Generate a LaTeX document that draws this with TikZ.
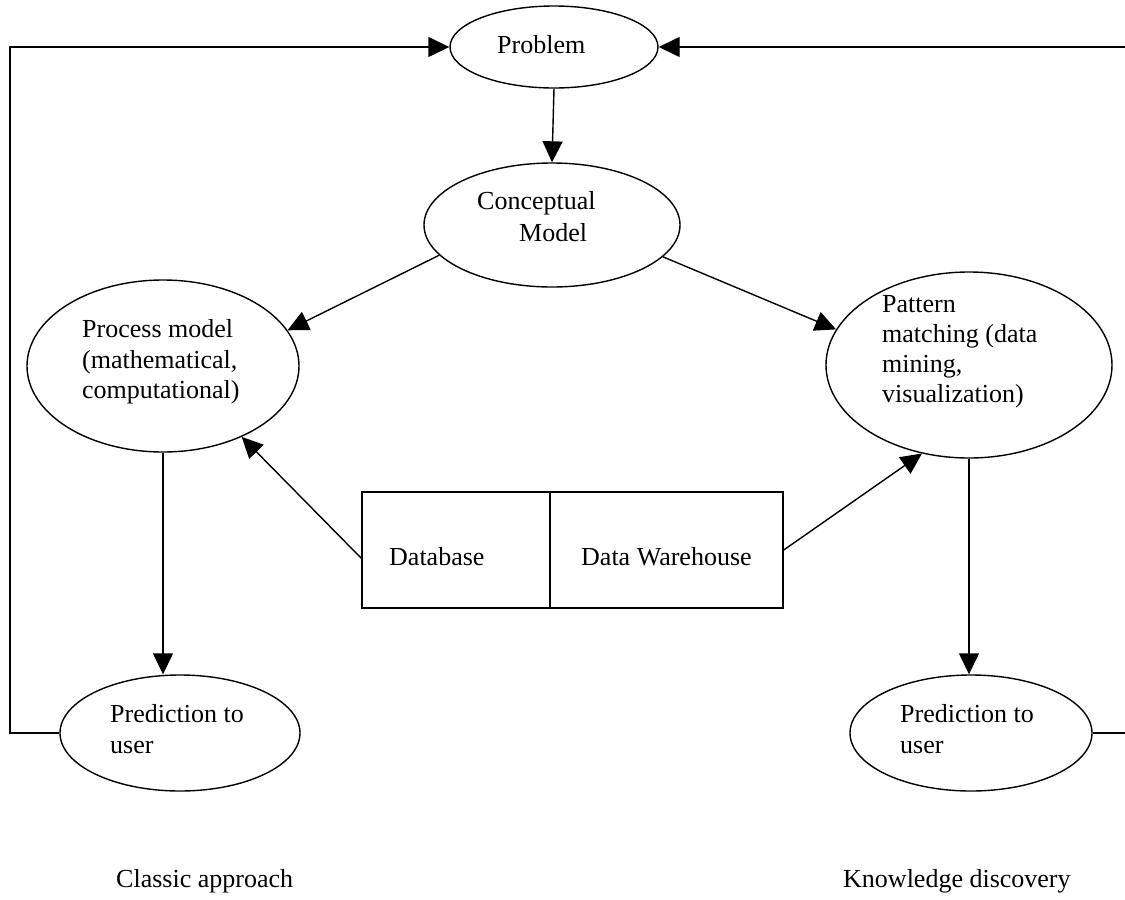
\documentclass[tikz,border=0pt]{standalone}
\usepackage{fontspec}
\setmainfont{Liberation Serif}
\usetikzlibrary{arrows.meta,shapes.geometric}
\begin{document}
\begin{tikzpicture}[x=1pt,y=-1pt,
  oval/.style={draw,ellipse,line width=1.4pt,inner sep=0pt},
  boxpart/.style={draw,rectangle,line width=1.4pt,inner sep=0pt},
  lbl/.style={anchor=base west,inner sep=0pt,font=\fontsize{26}{31}\selectfont},
  conn/.style={line width=1.4pt},
  arr/.style={conn,-{Triangle[length=21pt,width=20pt]}}]
\useasboundingbox (0,0) rectangle (1125,900);
\clip (0,0) rectangle (1125,900);
% shapes
\node[oval,minimum width=208pt,minimum height=82pt] (problem) at (554,47) {};
\node[oval,minimum width=256pt,minimum height=124pt] (concept) at (552,225) {};
\node[oval,minimum width=272pt,minimum height=172pt] (process) at (163,366) {};
\node[oval,minimum width=286pt,minimum height=186pt] (pattern) at (969,365) {};
\node[oval,minimum width=240pt,minimum height=116pt] (predL) at (180,733) {};
\node[oval,minimum width=242pt,minimum height=116pt] (predR) at (971,733) {};
\node[boxpart,minimum width=188pt,minimum height=116pt] (db) at (456,550) {};
\node[boxpart,minimum width=233pt,minimum height=116pt] (dw) at (666.5,550) {};
% texts
\node[lbl] (tprob) at (497,53) {Problem};
\node[lbl] (tcon1) at (477,209) {Conceptual};
\node[lbl] (tcon2) at (519,241) {Model};
\node[lbl] (tpro1) at (82,337) {Process model};
\node[lbl] (tpro2) at (82,368) {(mathematical,};
\node[lbl] (tpro3) at (82,398) {computational)};
\node[lbl] (tpat1) at (882,312) {Pattern};
\node[lbl] (tpat2) at (882,342) {matching (data};
\node[lbl] (tpat3) at (882,372) {mining,};
\node[lbl] (tpat4) at (882,402) {visualization)};
\node[lbl] (tdb) at (389,565) {Database};
\node[lbl] (tdw) at (581,565) {Data Warehouse};
\node[lbl] (tpl1) at (110,722) {Prediction to};
\node[lbl] (tpl2) at (110,753) {user};
\node[lbl] (tpr1) at (900,722) {Prediction to};
\node[lbl] (tpr2) at (900,753) {user};
\node[lbl] (tclassic) at (116,887) {Classic approach};
\node[lbl] (tknow) at (843,887) {Knowledge discovery};
% connectors
\coordinate (lc) at (10,733);
\coordinate (rc) at (1135,733);
\draw[arr] (problem.south) -- (concept.north);
\draw[arr] (concept.195) -- (process.16);
\draw[arr] (concept.344) -- (pattern.165);
\draw[arr] (db.185) -- (process.-42);
\draw[arr] (dw.east) -- (pattern.242);
\draw[arr] (process.south) -- (process.south |- predL.north);
\draw[arr] (pattern.south) -- (pattern.south |- predR.north);
\draw[arr] (predL.west) -- (lc) |- (problem.west);
\draw[arr] (predR.east) -- (rc) |- (problem.east);
\end{tikzpicture}
\end{document}
